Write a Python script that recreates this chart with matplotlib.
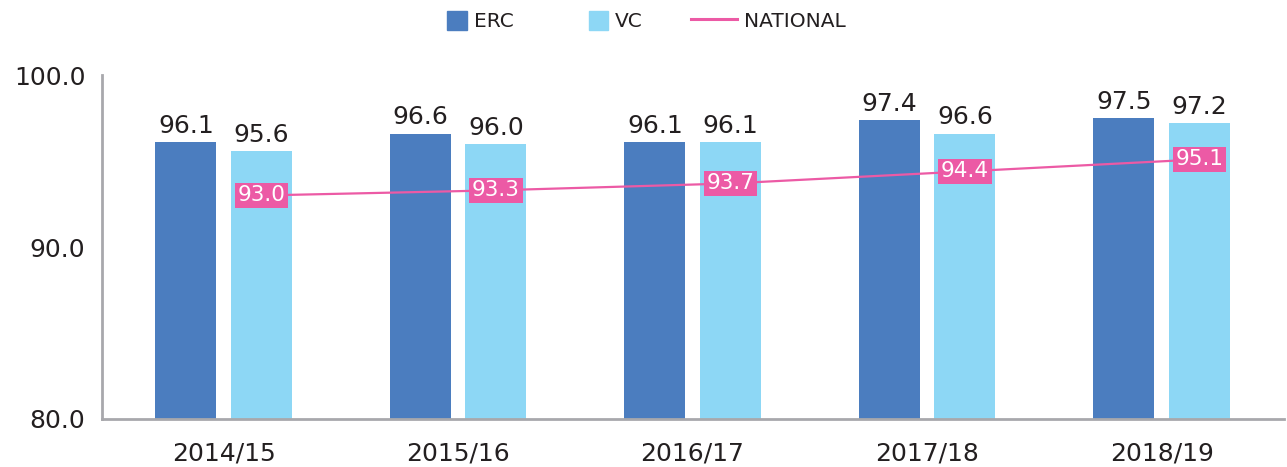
import matplotlib.pyplot as plt
import numpy as np
from matplotlib.legend_handler import HandlerPatch
from matplotlib.lines import Line2D
from matplotlib.patches import Patch, Rectangle

YEARS = ["2014/15", "2015/16", "2016/17", "2017/18", "2018/19"]
ERC = [96.1, 96.6, 96.1, 97.4, 97.5]
VC = [95.6, 96.0, 96.1, 96.6, 97.2]
NATIONAL = [93.0, 93.3, 93.7, 94.4, 95.1]

ERC_COLOR = "#4B7DBF"
VC_COLOR = "#8DD7F5"
NAT_COLOR = "#EC5AA5"
SPINE_COLOR = "#A8A8AC"
TEXT_COLOR = "#231F20"


def square_patch(legend, orig_handle, xdescent, ydescent, width, height, fontsize):
    side = height
    return Rectangle((-xdescent + width - side, -ydescent), side, side)


plt.rcParams["font.family"] = ["DejaVu Sans"]

fig = plt.figure(figsize=(12.87, 4.67), dpi=100)
ax = fig.add_axes([0.0793, 0.103, 0.918, 0.736])

x = np.arange(len(YEARS))
width = 0.26
offset = 0.161

erc_bars = ax.bar(x - offset, ERC, width, color=ERC_COLOR, zorder=2)
vc_bars = ax.bar(x + offset, VC, width, color=VC_COLOR, zorder=2)

for bars in (erc_bars, vc_bars):
    for bar in bars:
        h = bar.get_height()
        ax.annotate(f"{h:.1f}", (bar.get_x() + bar.get_width() / 2, h),
                    textcoords="offset points", xytext=(0, 3), ha="center",
                    va="bottom", fontsize=18, color=TEXT_COLOR)

ax.plot(x + offset, NATIONAL, color=NAT_COLOR, linewidth=1.6, zorder=3)
for xi, v in zip(x + offset, NATIONAL):
    ax.text(xi, v, f"{v:.1f}", ha="center", va="center", fontsize=15.5,
            color="white", zorder=4,
            bbox=dict(boxstyle="square,pad=0.13", facecolor=NAT_COLOR,
                      edgecolor="none"))

ax.set_xlim(-0.518, 4.52)
ax.set_ylim(80, 100)
ax.set_yticks([80, 90, 100])
ax.set_yticklabels([f"{v:.1f}" for v in (80, 90, 100)])
ax.set_xticks(x)
ax.set_xticklabels(YEARS)
ax.tick_params(axis="both", length=0, labelsize=18, colors=TEXT_COLOR)
ax.tick_params(axis="x", pad=16)
ax.tick_params(axis="y", pad=12)

for side in ("top", "right"):
    ax.spines[side].set_visible(False)
for side in ("left", "bottom"):
    ax.spines[side].set_color(SPINE_COLOR)
    ax.spines[side].set_linewidth(2)

handles = [
    Patch(color=ERC_COLOR, label="ERC"),
    Patch(color=VC_COLOR, label="VC"),
    Line2D([], [], color=NAT_COLOR, linewidth=2.2, label="NATIONAL"),
]
fig.legend(handles=handles, loc="center", bbox_to_anchor=(0.492, 0.955), ncol=3,
           frameon=False, fontsize=14.5, handlelength=2.3, handleheight=1.1,
           handletextpad=0.35, columnspacing=2.4,
           handler_map={Patch: HandlerPatch(patch_func=square_patch)},
           labelcolor=TEXT_COLOR)

fig.savefig("out.png", dpi=100)
